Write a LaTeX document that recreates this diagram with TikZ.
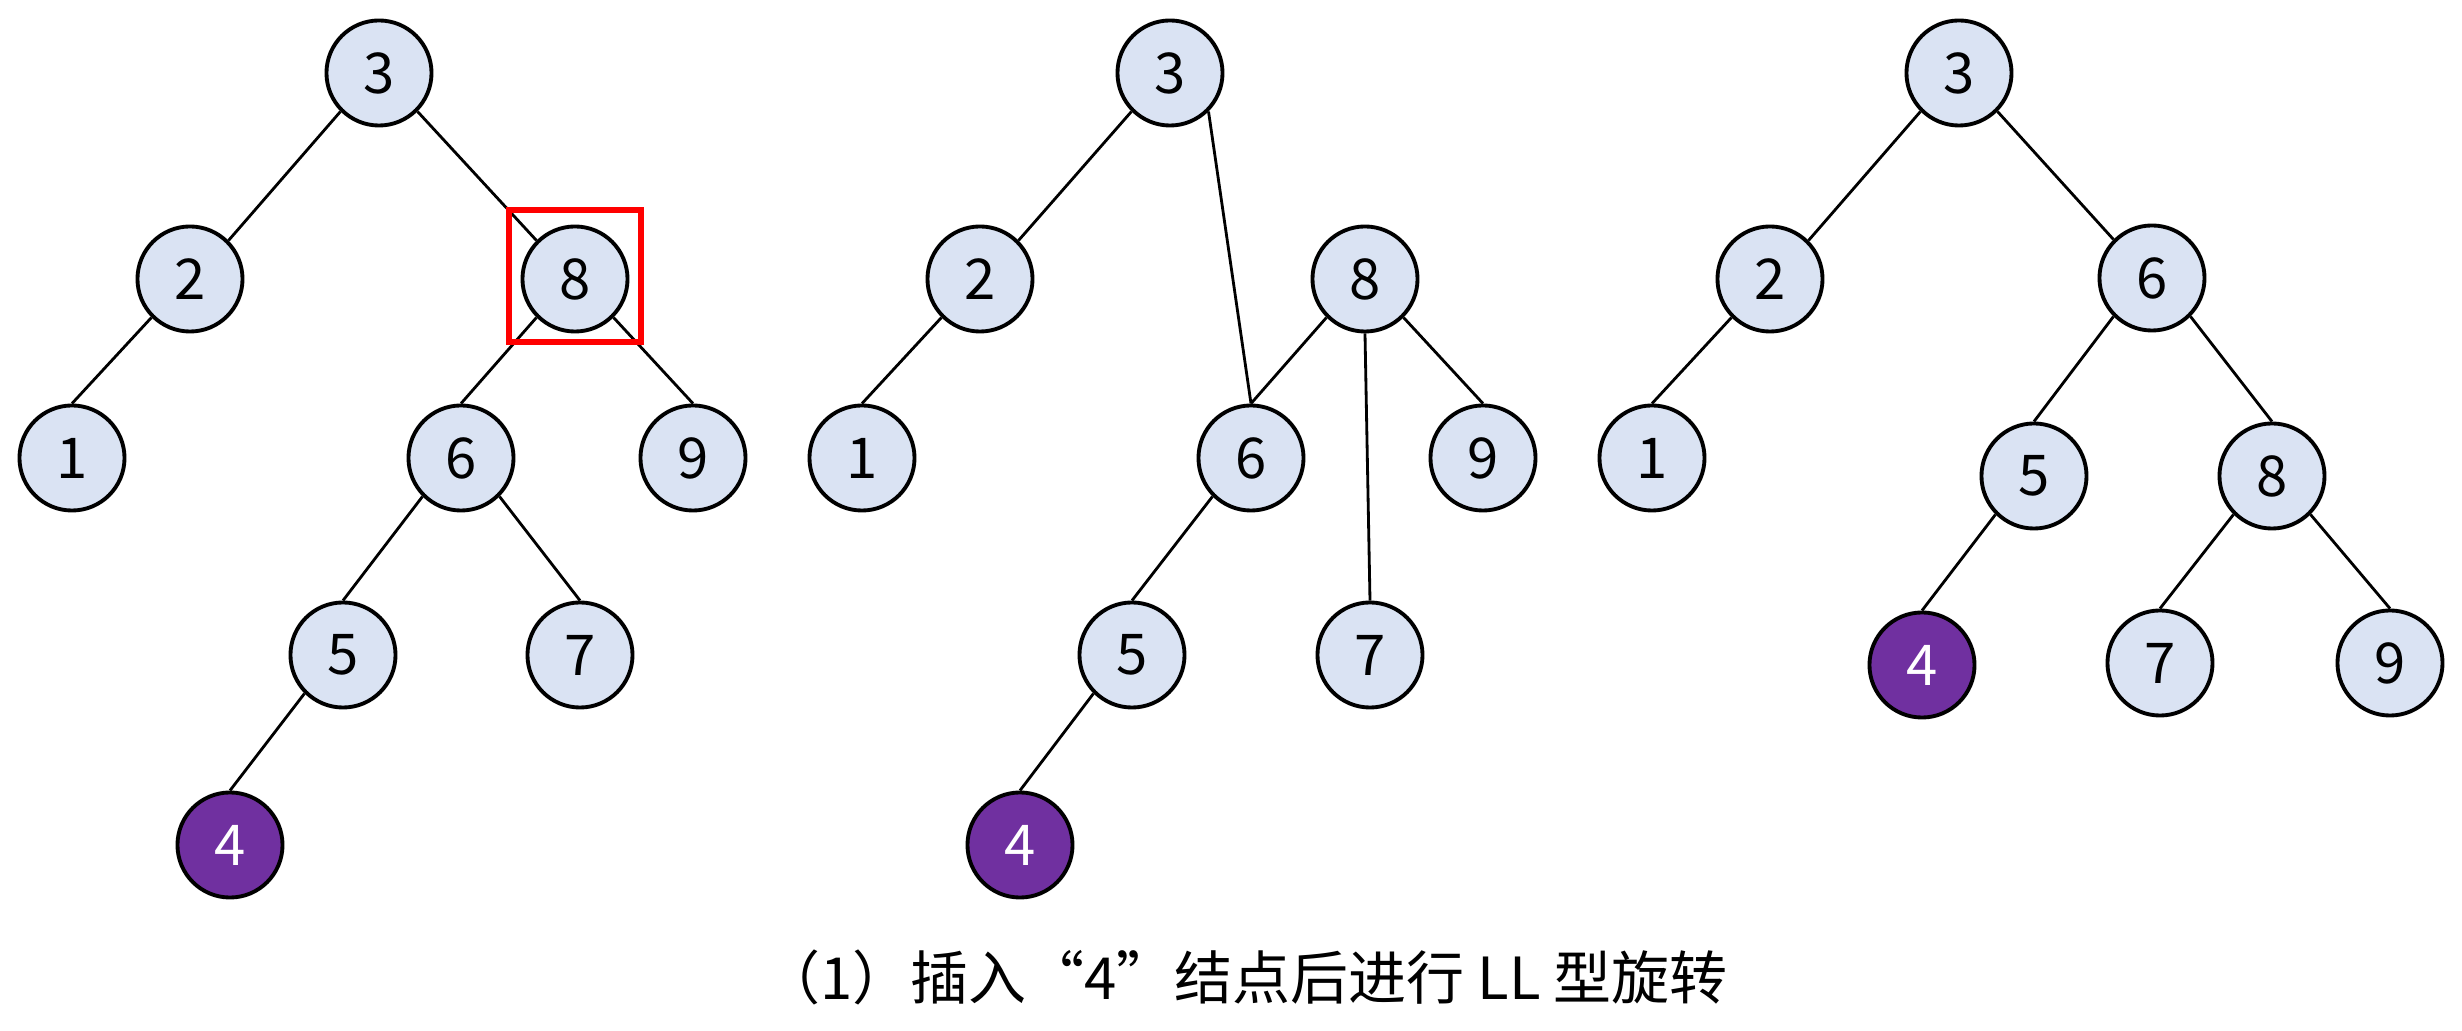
\documentclass[tikz,border=0pt]{standalone}
\usepackage{fontspec}
\setmainfont{Noto Sans CJK SC}
\usepackage{xcolor}
\definecolor{keyblue}{HTML}{DAE3F3}
\definecolor{newpurple}{HTML}{7030A0}

\begin{document}
\begin{tikzpicture}[x=0.01cm, y=-0.01cm,
                    key/.style={circle, draw, line width=1.1pt, fill=keyblue,
                                minimum size=1.05cm, inner sep=0pt,
                                font=\fontsize{16}{19}\selectfont},
                    newkey/.style={key, fill=newpurple, text=white},
                    link/.style={line width=0.8pt}]
  \useasboundingbox (0,0) rectangle (2462,1031);
  % before the rotation
  \node[key] (a3) at (379,73) {3};
  \node[key] (a2) at (190,279) {2};
  \node[key] (a8) at (575,279) {8};
  \node[key] (a1) at (72,458) {1};
  \node[key] (a6) at (461,458) {6};
  \node[key] (a9) at (693,458) {9};
  \node[key] (a5) at (343,655) {5};
  \node[key] (a7) at (580,655) {7};
  \node[newkey] (a4) at (230,845) {4};
  \draw[link] (a3.south west) -- (a2.north east) (a3.south east) -- (a8.north west)
              (a2.south west) -- (a1.north)
              (a8.south west) -- (a6.north) (a8.south east) -- (a9.north)
              (a6.south west) -- (a5.north) (a6.south east) -- (a7.north)
              (a5.south west) -- (a4.north);
  \node[draw=red, line width=1.7pt, minimum size=1.31cm, inner sep=0pt] (unbal) at (575,276) {};
  % while rotating
  \node[key] (b3) at (1170,73) {3};
  \node[key] (b2) at (980,279) {2};
  \node[key] (b8) at (1365,279) {8};
  \node[key] (b1) at (862,458) {1};
  \node[key] (b6) at (1251,458) {6};
  \node[key] (b9) at (1483,458) {9};
  \node[key] (b5) at (1132,655) {5};
  \node[key] (b7) at (1370,655) {7};
  \node[newkey] (b4) at (1020,845) {4};
  \draw[link] (b3.south west) -- (b2.north east) (b3.south east) -- (b6.north)
              (b2.south west) -- (b1.north)
              (b8.south west) -- (b6.north) (b8.south) -- (b7.north)
              (b8.south east) -- (b9.north)
              (b6.south west) -- (b5.north) (b5.south west) -- (b4.north);
  % after the rotation
  \node[key] (c3) at (1959,73) {3};
  \node[key] (c2) at (1770,279) {2};
  \node[key] (c6) at (2152,278) {6};
  \node[key] (c1) at (1652,458) {1};
  \node[key] (c5) at (2034,476) {5};
  \node[key] (c8) at (2272,476) {8};
  \node[newkey] (c4) at (1922,665) {4};
  \node[key] (c7) at (2160,663) {7};
  \node[key] (c9) at (2390,663) {9};
  \draw[link] (c3.south west) -- (c2.north east) (c3.south east) -- (c6.north west)
              (c2.south west) -- (c1.north)
              (c6.south west) -- (c5.north) (c6.south east) -- (c8.north)
              (c5.south west) -- (c4.north)
              (c8.south west) -- (c7.north) (c8.south east) -- (c9.north);
  \node[font=\fontsize{16.5}{20}\selectfont] (caption) at (1245,977) {（1）插入“4”结点后进行 LL 型旋转};
\end{tikzpicture}
\end{document}
